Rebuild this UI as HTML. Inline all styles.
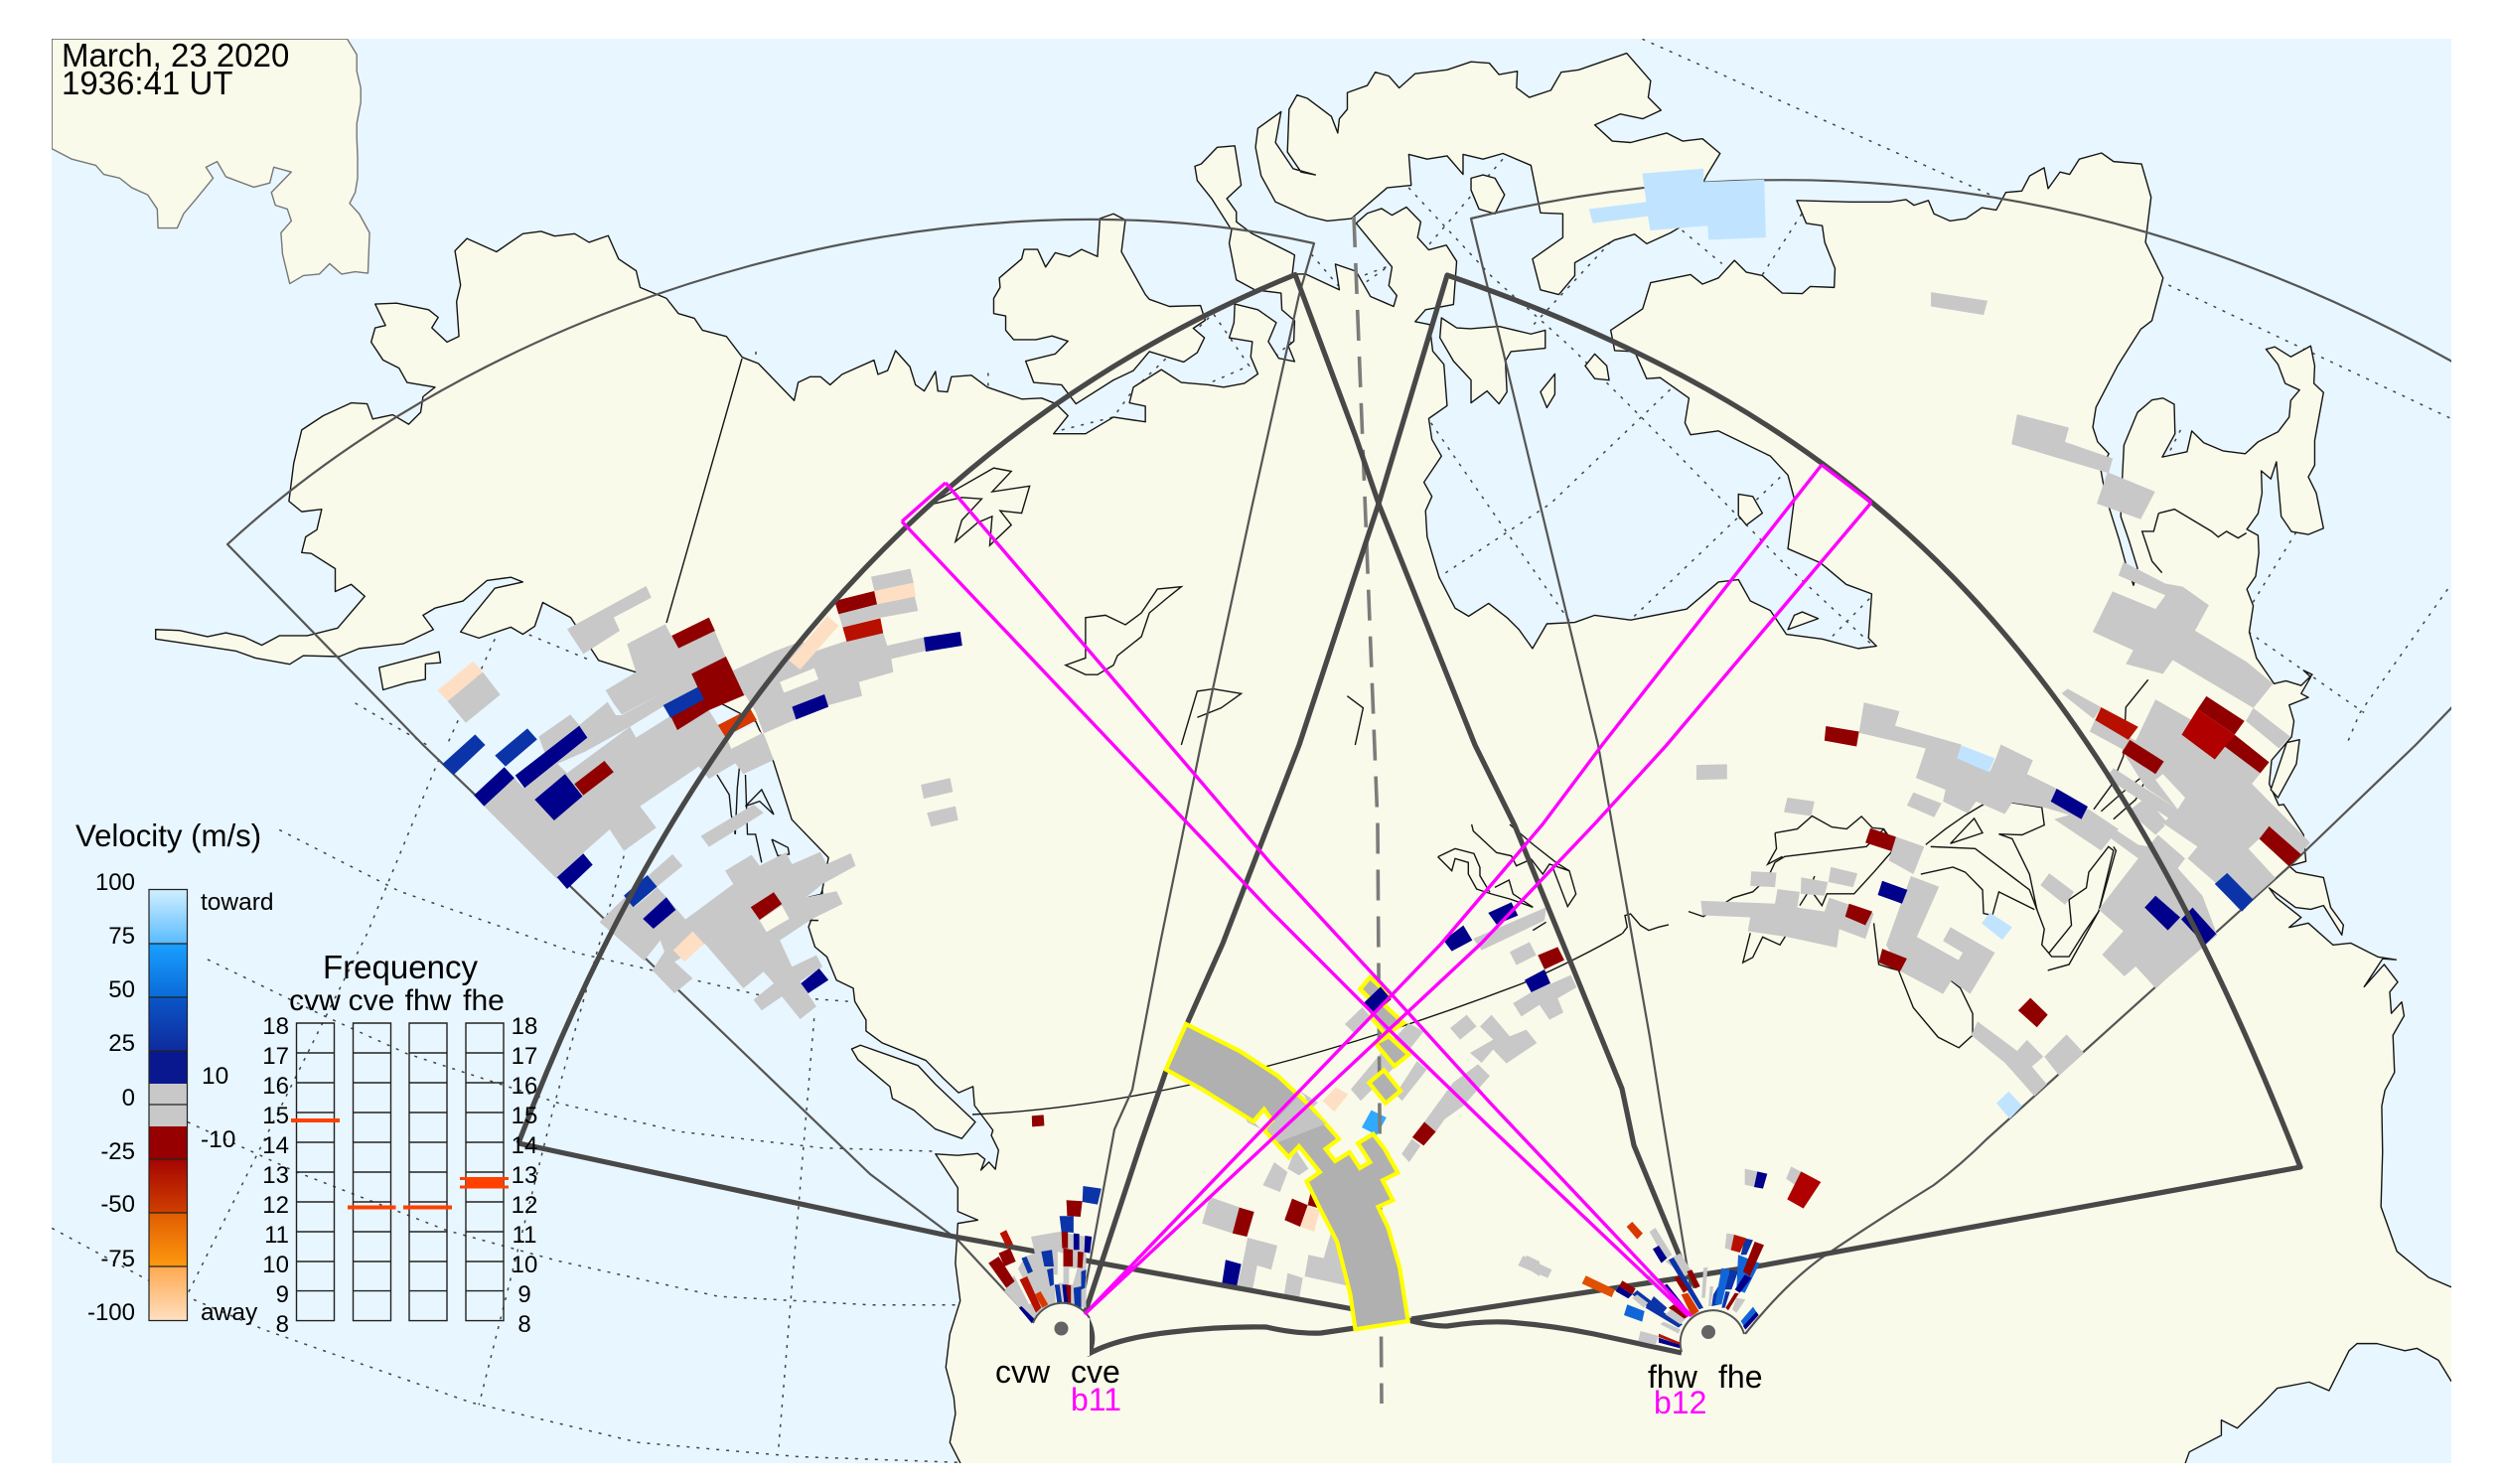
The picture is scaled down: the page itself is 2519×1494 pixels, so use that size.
<!DOCTYPE html>
<html><head><meta charset="utf-8"><style>
html,body{margin:0;padding:0;background:#fff}
svg{display:block}
svg *{vector-effect:non-scaling-stroke}
text{font-family:"Liberation Sans",sans-serif;fill:#000;stroke:none}
.L{fill:#f9faea;stroke:#151515;stroke-width:1.4;stroke-linejoin:round}
.O{fill:#e8f6ff;stroke:#151515;stroke-width:1.4}
.c{fill:none;stroke:#151515;stroke-width:1.4}
.k{fill:none;stroke:#444;stroke-width:1.5;stroke-dasharray:3 7}
.T{fill:none;stroke:#484848;stroke-width:5.2;stroke-linejoin:round}
.t{fill:none;stroke:#555;stroke-width:2.2;stroke-linejoin:round}
.m{fill:none;stroke:#ff00ff;stroke-width:3.4}
.g{fill:#c8c8c8}.d{fill:#900000}.n{fill:#00008b}.b{fill:#0a34a8}.r{fill:#b81000}.o{fill:#d83800}.p{fill:#ffdfc4}.l{fill:#c0e4ff}.s{fill:#1066d8}.f{fill:#f9faea}
.y{fill:#b0b0b0;stroke:#ffff00;stroke-width:4.2;stroke-linejoin:miter}
</style></head><body>
<svg xmlns="http://www.w3.org/2000/svg" width="2519" height="1494" viewBox="0 0 2519 1494">
<defs><clipPath id="mp"><rect x="52" y="39" width="2416" height="1434"/></clipPath></defs>
<rect width="2519" height="1494" fill="#fff"/>
<g clip-path="url(#mp)">
<rect x="52" y="39" width="2416" height="1434" fill="#e8f6ff"/>
<!-- grid -->
<g transform="translate(0,750) scale(.8036,.4745)">
<polyline class="k" points="350,180 500,310 720,440 950,530 1070,545"/>
<polyline class="k" points="260,455 400,570 510,655 700,760 850,820 1030,855 1170,862"/>
<polyline class="k" points="235,800 370,905 560,1030 700,1095 900,1170 1090,1188 1200,1188"/>
<polyline class="k" points="65,1025 185,1135 330,1240 590,1395 800,1480 1000,1510 1200,1522"/>
<polyline class="k" points="550,30 460,400 235,1165"/>
<polyline class="k" points="785,215 695,760 600,1400"/>
<polyline class="k" points="1020,580 975,1500"/>
</g>
<g transform="scale(.8036,.4783)">
<polyline class="k" points="445,1480 535,1568"/>
<polyline class="k" points="620,1345 560,1568"/>
<polyline class="k" points="640,1320 740,1390"/>
<polyline class="k" points="947,740 947,760"/>
<polyline class="k" points="1238,785 1238,815"/>
<polyline class="k" points="1330,905 1395,878 1420,820 1520,660 1565,770 1510,810"/>
</g>
<g transform="translate(1260,0) scale(.8029,.4783)">
<polyline class="k" points="490,82 940,420"/>
<polyline class="k" points="1150,600 1503,880"/>
<polyline class="k" points="690,450 640,580"/>
<polyline class="k" points="540,485 590,555"/>
<polyline class="k" points="197,395 300,580 400,730 490,880 670,1190 780,1360"/>
<polyline class="k" points="315,335 220,520"/>
<polyline class="k" points="450,510 350,690"/>
<polyline class="k" points="525,820 375,1060 235,1215"/>
<polyline class="k" points="225,890 320,1120 400,1310"/>
<polyline class="k" points="672,990 475,1305"/>
<polyline class="k" points="1165,905 1150,955"/>
<polyline class="k" points="1310,1120 1255,1270"/>
<polyline class="k" points="1500,1240 1390,1500 1375,1560"/>
<polyline class="k" points="1250,1330 1395,1500"/>
<polyline class="k" points="775,1260 725,1345"/>
<polyline class="k" points="75,535 108,600 172,560 130,610"/>
<polyline class="k" points="30,750 50,720"/>
</g>
<!-- land -->
<g transform="scale(.8036,.4783)">
<polygon class="L" style="stroke:#777" points="65,82 435,82 447,115 447,150 452,185 452,215 447,260 447,290 448,330 448,375 445,405 438,428 450,450 463,490 461,575 445,572 428,577 413,555 400,577 380,580 363,597 354,535 352,490 365,465 360,440 345,432 340,405 365,362 343,352 338,385 318,394 283,372 272,340 258,352 267,375 245,420 230,450 222,480 198,480 197,440 185,410 165,395 150,375 130,367 120,348 90,335 65,313"/>
<polygon class="L" points="1203,3110 1203,3079 1190,3036 1197,2976 1195,2941 1185,2878 1190,2808 1203,2738 1197,2659 1200,2575 1225,2568 1200,2550 1200,2500 1172,2429 1200,2432 1225,2428 1234,2440 1229,2463 1239,2446 1247,2461 1251,2421 1242,2390 1244,2379 1221,2327 1219,2287 1201,2300 1182,2270 1160,2232 1105,2195 1085,2170 1085,2147 1071,2108 1069,2080 1048,2063 1036,2014 1021,1993 1013,1951 1030,1875 1038,1805 992,1725 969,1603 947,1519 880,1460 797,1415 750,1390 715,1300 680,1268 670,1318 655,1335 640,1320 600,1343 577,1330 590,1300 620,1238 655,1225 640,1215 610,1222 580,1265 545,1280 530,1295 543,1325 505,1355 450,1365 425,1382 380,1380 363,1398 320,1385 295,1370 255,1360 195,1345 195,1325 225,1327 260,1340 283,1332 305,1340 328,1358 350,1338 385,1338 423,1322 457,1255 440,1230 420,1245 420,1197 390,1165 378,1163 383,1130 397,1115 403,1072 378,1077 362,1055 368,975 378,905 405,875 440,848 460,850 467,882 492,873 512,893 527,868 530,835 545,815 510,805 500,775 480,758 465,720 470,690 483,685 470,640 497,638 537,652 549,668 541,690 560,720 575,708 572,635 577,600 570,528 585,502 622,530 655,492 678,487 695,497 720,492 738,510 762,496 775,545 797,570 802,605 835,628 850,660 870,670 880,695 910,708 930,752 950,765 995,843 1000,805 1015,793 1028,793 1040,810 1055,788 1095,758 1100,788 1112,780 1122,738 1140,772 1147,810 1158,823 1172,782 1175,823 1187,825 1192,793 1217,790 1237,815 1280,840 1305,838 1323,850 1338,875 1320,913 1360,913 1395,878 1435,888 1435,855 1415,848 1420,815 1455,778 1480,805 1514,810 1533,815 1559,807 1576,787 1567,751 1569,719 1540,711 1546,679 1547,640 1576,652 1599,679 1589,719 1602,754 1622,761 1614,728 1621,718 1622,675 1606,652 1605,617 1572,610 1549,589 1540,512 1543,484 1518,418 1500,380 1497,350 1505,345 1525,310 1547,307 1555,390 1537,418 1549,446 1549,467 1568,491 1618,533 1622,537 1619,577 1636,577 1678,610 1673,556 1699,571 1717,624 1746,645 1750,622 1740,601 1744,562 1699,470 1713,449 1731,439 1744,453 1762,436 1780,467 1776,500 1790,526 1812,516 1825,550 1821,641 1786,652 1773,677 1791,683 1795,739 1809,767 1813,854 1790,881 1794,925 1806,960 1784,1015 1794,1045 1786,1075 1788,1130 1803,1215 1823,1280 1840,1297 1865,1270 1888,1300 1903,1325 1920,1365 1938,1313 1973,1310 1998,1295 2043,1305 2113,1282 2153,1225 2178,1220 2193,1265 2218,1285 2238,1335 2283,1345 2328,1365 2351,1360 2341,1343 2345,1250 2313,1230 2281,1185 2240,1155 2248,1050 2240,1000 2218,960 2153,907 2118,915 2111,890 2116,838 2080,795 2063,797 2048,740 2023,738 2018,695 2058,650 2068,595 2118,578 2133,598 2153,585 2173,548 2188,573 2208,580 2233,617 2258,618 2268,603 2298,605 2299,565 2286,510 2283,475 2263,470 2251,422 2318,425 2368,425 2388,420 2398,432 2416,422 2423,450 2443,465 2463,460 2483,437 2501,442 2513,405 2533,402 2543,370 2561,353 2566,397 2581,362 2593,367 2605,335 2633,322 2648,340 2683,345 2695,415 2688,510 2710,585 2696,675 2682,693 2653,770 2626,857 2622,899 2628,930 2642,955 2632,989 2638,1045 2655,1136 2663,1185 2673,1232 2678,1196 2667,1136 2657,1087 2659,1003 2661,937 2678,868 2696,842 2710,838 2724,851 2725,913 2709,962 2740,951 2746,907 2761,932 2785,949 2813,955 2829,930 2854,909 2868,878 2870,843 2881,821 2863,807 2854,767 2839,735 2850,730 2870,751 2895,728 2900,770 2899,807 2911,826 2900,927 2900,979 2892,1004 2902,1038 2911,1112 2892,1125 2871,1119 2858,1087 2852,972 2845,1008 2833,991 2834,1038 2829,1081 2815,1114 2829,1127 2830,1164 2826,1213 2815,1240 2823,1275 2818,1330 2827,1385 2849,1439 2864,1433 2883,1443 2897,1420 2886,1411 2895,1425 2883,1460 2892,1468 2868,1484 2874,1518 2871,1551 2846,1600 2843,1650 2855,1695 2861,1693 2886,1757 2889,1813 2868,1823 2877,1836 2911,1847 2920,1910 2936,1947 2934,1968 2911,1906 2895,1914 2876,1910 2843,1869 2852,1890 2883,1931 2868,1952 2892,1943 2923,1989 2945,1985 2979,2014 3002,2020 2985,2018 2962,2077 2987,2030 3004,2067 2994,2088 2996,2133 3009,2109 3012,2138 2998,2179 3000,2257 2988,2295 2984,2328 2985,2425 2983,2540 3003,2634 3043,2689 3071,2709 3200,2709 3200,2907 3071,2907 3055,2863 3028,2838 3013,2843 2978,2828 2953,2828 2943,2843 2918,2927 2893,2909 2853,2922 2833,2957 2803,3006 2783,2989 2783,3021 2743,3056 2738,3079 2738,3110"/>
<!-- islands -->
<polygon class="L" points="1378,460 1395,450 1410,463 1405,530 1435,620 1440,630 1465,645 1504,643 1510,674 1495,691 1509,711 1500,742 1483,762 1440,740 1420,780 1395,800 1348,850 1330,810 1295,805 1285,760 1322,745 1338,718 1318,707 1298,715 1270,715 1260,695 1260,665 1245,660 1245,628 1253,605 1252,585 1280,545 1283,525 1300,525 1310,562 1322,532 1340,540 1355,525 1375,540"/>
<polygon class="L" points="475,1405 550,1372 552,1395 533,1397 533,1430 510,1437 480,1452"/>
<polygon class="L" points="1576,270 1573,310 1580,370 1598,425 1638,455 1663,465 1693,460 1738,395 1768,390 1765,325 1788,335 1813,328 1833,367 1833,325 1858,335 1883,323 1918,348 1930,448 1958,450 1958,500 1920,545 1930,610 1953,620 1973,580 1973,553 2023,505 2048,493 2063,513 2093,490 2108,475 2138,370 2155,323 2133,292 2108,297 2088,280 2043,300 2020,297 1998,263 2030,240 2058,250 2081,232 2065,205 2068,170 2038,112 1978,147 1956,152 1943,190 1916,205 1900,185 1901,150 1878,157 1866,133 1843,130 1813,147 1773,155 1753,185 1740,160 1723,152 1713,180 1688,195 1688,230 1678,250 1676,280 1668,245 1638,207 1625,200 1615,230 1613,320 1630,362 1648,368 1620,355 1598,300 1605,235"/>
<polygon class="L" points="1843,375 1858,368 1873,375 1885,410 1873,450 1853,440 1843,400"/>
<polygon class="L" points="1806,669 1825,690 1842,692 1878,687 1918,703 1936,695 1936,733 1893,740 1886,760 1888,825 1878,850 1863,823 1843,848 1843,800 1842,798 1821,760 1804,711"/>
<polygon class="L" points="1986,770 1998,745 2013,770 2016,800 1998,797"/>
<polygon class="L" points="1930,825 1948,787 1948,830 1938,858"/>
<polygon class="L" points="2178,1040 2196,1045 2208,1080 2188,1105 2178,1085"/>
<polygon class="L" points="2240,1325 2248,1295 2258,1288 2278,1302"/>
<polygon class="L" points="2854,1679 2845,1662 2865,1563 2881,1557 2877,1608"/>
</g>
<g transform="translate(0,750) scale(.8036,.4745)">
<polygon class="L" points="1067,645 1078,637 1150,680 1172,720 1222,800 1205,835 1172,815 1145,775 1118,750 1115,725 1075,668"/>
</g>
<!-- lakes and borders -->
<g transform="scale(.8036,.4783)">
<polygon class="c" points="1165,1062 1245,985 1267,992 1243,1035 1290,1023 1280,1080 1253,1075 1267,1105 1240,1148 1243,1087 1225,1100 1197,1140 1205,1095 1230,1050 1205,1047"/>
<polygon class="c" points="1335,1400 1360,1385 1360,1300 1385,1295 1410,1315 1430,1290 1450,1240 1480,1235 1465,1255 1440,1290 1430,1340 1400,1380 1395,1400 1375,1420 1360,1420"/>
<polyline class="c" points="1480,1568 1500,1455 1520,1450 1555,1460 1530,1490 1500,1510"/>
</g>
<g transform="translate(1260,0) scale(.8029,.4783)"><polyline class="c" points="120,1465 140,1490 130,1568"/></g>
<g transform="translate(1700,540) scale(.4975,.3954)">
<polyline class="c" points="0,955 30,968 90,920 130,905 160,870 175,830 195,815 360,790 395,745"/>
<polyline class="c" points="175,755 220,745 250,712 290,740 320,745 350,713 372,742 395,745 415,795"/>
<polyline class="c" points="175,755 178,795 160,835 190,815"/>
<polyline class="c" points="125,1010 110,1085 130,1072 150,1020 185,1040 200,1010"/>
<polyline class="c" points="225,940 245,900 255,865"/>
<polyline class="c" points="480,785 520,745 560,710 600,680 655,678 715,690 720,735 675,760 628,758 655,770 690,860 705,950 720,1000 715,1040 735,1070 770,1070 800,1010 830,955 860,800 850,790 810,855 805,895 770,925 775,990 730,1060"/>
<polygon class="c" points="530,782 578,718 595,755"/>
<polyline class="c" points="490,790 580,795 690,900 705,950"/>
<polyline class="c" points="470,860 535,842 560,855 595,900 597,960 615,965 628,905 700,950"/>
<polyline class="c" points="375,985 385,1090 410,1100 425,1105 455,1200 505,1275 547,1302 575,1270 575,1215 550,1150 525,1125"/>
<polyline class="c" points="727,1105 770,1090 830,955 865,800 860,790"/>
<polyline class="c" points="820,695 855,635 880,560 885,435 930,365"/>
<polyline class="c" points="835,700 880,650 930,600"/>
<polyline class="c" points="860,720 905,670 925,620"/>
<polyline class="c" points="395,745 420,790 375,855 335,910 280,910 270,940 250,905"/>
</g>
<g transform="translate(2060,280) scale(.3333)">
<polyline class="c" points="340,710 388,698 500,765 520,782 545,765 580,785 605,770"/>
<polyline class="c" points="340,710 325,765 290,765 320,855 350,890"/>
</g>
<g transform="translate(420,560) scale(.408,.3333)">
<polyline class="c" points="740,660 770,720 775,780 785,840"/>
<polyline class="c" points="795,640 790,700 785,840"/>
<polyline class="c" points="810,660 815,840 835,840 850,925"/>
<polygon class="c" points="810,755 850,705 880,780 845,740"/>
<polyline class="c" points="875,855 915,880 918,900 890,905 875,855"/>
<polyline class="c" points="860,1080 910,1098 990,1100"/>
<polyline class="c" points="965,1030 1000,1020 1000,1010"/>
</g>
<g transform="translate(1280,830) scale(.3333)">
<polyline class="c" points="503,98 555,73 612,88 630,130 630,155 660,205"/>
<polyline class="c" points="503,98 545,140 555,103 595,115 595,150 620,195 665,210 720,225 790,250"/>
<polyline class="c" points="675,190 718,168 730,210 790,250"/>
<polyline class="c" points="605,0 610,20 680,85 725,95 740,125 785,105 820,150 840,120 900,140 920,210 895,248 850,130"/>
<polyline class="c" points="720,0 790,60 860,115 900,140"/>
<polyline class="c" points="790,320 830,295"/>
<polyline class="c" points="1060,330 1075,310 1068,275 1085,270 1115,305 1140,320 1170,310 1200,303"/>
</g>
<path class="c" d="M979,1122 C1150,1115 1350,1060 1533,990 Q1590,965 1633,940"/>
<polyline class="c" points="747,361 671,627"/>
<!-- thin FOV -->
<path class="t" d="M1085,1315 L1092,1300 L1122,1137 L1140,1097 L1168,950 L1209,750 L1260,512 L1308,296.5 L1323,245 C976,166 514,285 229,548 L426,750 L876,1182 L964,1248 L1041,1331"/>
<path class="t" d="M1702,1296 L1673,1120 L1661,1044 L1609,750 L1481,220 C1811,139 2145,184 2467,363 L2490,378"/>
<path class="t" d="M1757,1343 Q1795,1295 1833,1267 Q1880,1235 1947,1193 Q1975,1172 2000,1147 L2304,873 L2432,750 L2490,690"/>
<!-- patches: Alaska -->
<g transform="translate(420,560) scale(.408,.3333)">
<polygon class="g" points="370,220 565,90 578,125 485,185 500,225 410,295"/>
<polygon class="g" points="165,755 240,670 262,700 340,620 370,655 525,515 540,548 700,425 760,545 855,535 880,615 805,658 785,625 720,672 695,635 550,755 590,820 510,890 475,825 415,890 345,975"/>
<polygon class="g" points="300,545 378,478 400,510 470,440 490,480 505,480 595,420 612,450 525,515 415,590 340,630 320,610"/>
<polygon class="g" points="465,405 540,350 518,265 612,205 628,243 720,185 760,300 780,345 880,288 950,255 975,290 1060,255 1150,232 1160,270 1250,245 1257,285 1170,310 1175,350 1090,380 1098,422 1015,450 930,495 855,535 835,470 810,420 700,425 610,455 595,420 505,478 485,445"/>
<polygon class="f" points="895,380 980,338 990,372 905,412"/>
<polygon class="f" points="765,550 830,510 850,535 775,582"/>
<polygon class="d" points="628,240 720,185 735,225 645,278"/>
<polygon class="d" points="677,355 762,303 807,420 720,465 642,525 625,482 705,430"/>
<polygon class="b" points="607,450 693,395 708,432 625,488"/>
<polygon class="o" points="742,510 822,460 838,495 760,545"/>
<polygon class="n" points="925,455 1005,417 1015,455 935,493"/>
<polygon class="n" points="1250,245 1340,228 1345,270 1255,288"/>
<polygon class="d" points="1030,135 1128,105 1135,145 1040,175"/>
<polygon class="p" points="1128,105 1225,80 1230,122 1135,145"/>
<polygon class="g" points="1120,62 1217,38 1225,80 1128,105"/>
<polygon class="g" points="1040,175 1135,145 1228,122 1236,165 1145,185 1050,215"/>
<polygon class="r" points="1050,215 1143,187 1150,232 1060,258"/>
<polygon class="p" points="918,315 1012,180 1040,210 945,342"/>
<polygon class="b" points="62,628 143,538 168,570 90,660"/>
<polygon class="b" points="192,602 272,520 296,553 218,635"/>
<polygon class="n" points="140,722 215,637 240,670 165,755"/>
<polygon class="n" points="242,662 400,512 420,548 265,700"/>
<polygon class="n" points="290,735 365,658 408,725 338,798"/>
<polygon class="d" points="388,688 462,618 485,652 410,722"/>
<polygon class="n" points="345,970 410,898 433,932 370,1005"/>
<polygon class="p" points="50,405 138,317 162,350 75,438"/>
<polygon class="g" points="75,438 162,350 205,418 120,503"/>
<polygon class="g" points="570,965 630,900 655,935 592,998"/>
<polygon class="g" points="450,1105 513,1030 535,1060 575,1020 592,1000 615,1030 662,1097 780,990 760,950 825,902 845,935 910,895 925,930 995,893 1010,930 1070,897 1082,935 1000,990 960,1030 1035,1012 1050,1050 975,1095 895,1160 925,1240 985,1205 1000,1240 945,1285 985,1360 945,1398 900,1330 850,1372 830,1340 880,1290 855,1255 805,1305 710,1170 635,1225 680,1275 635,1320 580,1250 610,1195 600,1160 560,1222"/>
<polygon class="b" points="510,1025 568,963 592,998 533,1060"/>
<polygon class="n" points="557,1095 615,1030 638,1068 583,1125"/>
<polygon class="d" points="823,1060 880,1015 900,1050 845,1098"/>
<polygon class="f" points="845,1100 900,1055 918,1095 862,1135"/>
<polygon class="p" points="632,1190 680,1133 708,1170 660,1225"/>
<polygon class="n" points="947,1290 992,1245 1015,1280 965,1320"/>
<polygon class="g" points="700,845 830,750 855,775 720,878"/>
<polygon class="g" points="1243,690 1315,670 1322,712 1250,732"/>
<polygon class="g" points="1258,775 1328,755 1335,797 1268,817"/>
</g>
<!-- patches: east -->
<g transform="translate(1700,540) scale(.4975,.3954)">
<polygon class="g" points="880,65 965,120 1000,128 1053,175 1025,240 1130,320 1183,375 1143,437 980,315 960,350 885,325 900,290 818,243 858,140 945,185 965,150 870,100"/>
<polygon class="g" points="755,400 767,388 835,435 820,465"/>
<polygon class="g" points="812,497 823,465 905,520 890,550"/>
<polygon class="g" points="1143,437 1218,510 1195,540 1128,470"/>
<polygon class="g" points="945,415 1035,480 1000,505 1065,568 1090,510 1175,575 1140,630 1258,780 1237,810 1215,838 1155,770 1133,795 1188,870 1115,952 1065,880 1010,820 1030,790 960,730 990,695 925,640 885,560 905,520"/>
<polygon class="f" points="945,620 960,605 1005,665 990,695"/>
<polygon class="g" points="910,820 950,760 1005,820 990,845 1040,915 1070,1015 945,1150 905,1095 882,1120 837,1065 880,1005 830,950"/>
<polygon class="g" points="890,700 925,665 970,730 945,760"/>
<polygon class="g" points="845,615 860,590 990,695 975,720"/>
<polygon class="f" points="960,730 1000,770 1027,790 1005,820"/>
<polygon class="g" points="355,423 427,445 418,482 552,530 545,565 610,598 622,565 632,530 697,570 685,605 745,642 733,675 810,695 850,735 910,785 932,790 910,820 845,760 800,720 720,690 655,678 640,707 582,675 565,705 515,675 520,645 460,615 480,540 345,500"/>
<polygon class="g" points="810,695 870,745 835,800 740,720"/>
<polygon class="n" points="745,642 808,688 795,720 733,675"/>
<polygon class="l" points="552,532 620,565 607,600 543,565"/>
<polygon class="d" points="278,483 345,497 340,535 275,520"/>
<polygon class="g" points="16,582 78,580 78,618 16,620"/>
<polygon class="g" points="200,665 255,675 248,712 193,702"/>
<polygon class="g" points="455,652 512,680 497,715 442,685"/>
<polygon class="r" points="835,435 910,485 890,518 823,468"/>
<polygon class="d" points="893,518 962,573 945,605 877,550"/>
<polygon class="d" points="1048,407 1125,470 1105,505 1030,440"/>
<polygon style="fill:#b00000" points="1030,440 1105,505 1065,568 998,505"/>
<polygon class="d" points="1105,505 1175,575 1157,603 1085,535"/>
<polygon class="d" points="1175,738 1240,810 1215,840 1155,770"/>
<polygon class="b" points="1090,857 1143,925 1120,955 1065,885"/>
<polygon class="n" points="945,915 995,970 970,1003 923,945"/>
<polygon class="n" points="1020,945 1068,1012 1045,1040 997,975"/>
<polygon class="g" points="730,858 780,905 762,938 712,888"/>
<polygon class="d" points="368,743 420,765 412,802 358,780"/>
<polygon class="g" points="420,765 477,790 455,860 405,825"/>
<polygon class="g" points="450,865 507,892 462,1020 440,1078 400,1040"/>
<polygon class="g" points="400,1040 462,1020 555,1085 515,1165 430,1108"/>
<polygon class="g" points="530,995 620,1060 570,1165 525,1125 555,1060 515,1030"/>
<polygon class="n" points="392,877 443,900 432,935 383,913"/>
<polygon class="d" points="392,1050 442,1075 428,1108 385,1085"/>
<polygon class="l" points="610,958 655,995 635,1027 593,985"/>
<polygon class="g" points="127,853 178,856 175,893 125,890"/>
<polygon class="g" points="228,868 282,880 275,915 227,910"/>
<polygon class="g" points="288,842 342,858 333,893 283,880"/>
<polygon class="g" points="25,928 175,935 180,898 225,905 220,945 275,955 285,920 320,935 375,960 358,1025 305,1000 300,1047 200,1020 120,1005 125,970 28,965"/>
<polygon class="d" points="325,935 372,955 358,990 317,968"/>
<polygon class="d" points="692,1175 727,1218 705,1250 667,1207"/>
<polygon class="g" points="585,1235 665,1310 685,1282 718,1325 695,1350 725,1395 700,1425 640,1340 572,1270"/>
<polygon class="g" points="765,1268 800,1315 750,1373 720,1325"/>
<polygon class="l" points="648,1413 675,1450 650,1483 623,1443"/>
</g>
<g transform="translate(1260,0) scale(.8029,.4783)">
<polygon class="g" points="852,615 923,633 918,663 852,645"/>
<polygon class="g" points="960,872 1025,900 1020,930 1080,965 1075,995 1133,1035 1115,1093 1060,1060 1073,995 953,935"/>
<polygon class="l" points="490,365 567,355 567,383 643,378 645,500 573,505 572,475 500,485 497,455 428,470 423,440 495,425"/>
</g>
<!-- centre -->
<g transform="translate(1280,830) scale(.3333)">
<polygon class="g" points="610,345 830,250 825,290 635,380"/>
<polygon class="n" points="520,350 580,305 607,350 545,383"/>
<polygon class="n" points="655,267 725,235 745,275 680,302"/>
<polygon class="g" points="720,385 780,355 800,395 740,425"/>
<polygon class="d" points="805,395 865,370 885,410 825,438"/>
<polygon class="g" points="730,540 785,507 905,455 922,492 865,525 882,568 840,590 810,545 755,580"/>
<polygon class="n" points="765,470 825,438 843,480 785,507"/>
<polygon class="g" points="540,615 590,575 620,610 570,650"/>
<polygon class="g" points="600,690 670,650 630,610 665,575 720,640 770,620 802,660 710,722 670,680 635,720"/>
<polygon class="g" points="222,603 275,552 303,585 250,630"/>
<polygon class="g" points="460,900 530,825 580,770 625,725 660,760 580,850 510,900"/>
<polygon class="g" points="240,800 340,680 415,600 460,625 385,720 270,835"/>
<polygon class="g" points="375,815 440,715 470,740 395,835"/>
<polygon class="p" points="155,835 195,793 232,815 190,868"/>
</g>
<g transform="translate(950,950) scale(.3827,.3333)">
<polygon class="d" points="232,520 263,517 265,550 233,553"/>
<polygon class="g" points="790,520 815,537 835,560 800,540"/>
<polygon class="g" points="870,660 905,690 885,750 840,730"/>
<polygon class="g" points="925,620 960,680 935,700 905,680"/>
<polygon class="g" points="700,765 780,797 760,875 680,845"/>
<polygon class="d" points="778,797 817,810 798,885 760,875"/>
<polygon class="d" points="917,770 958,790 938,855 897,835"/>
<polygon class="d" points="965,755 990,800 958,790"/>
<polygon class="p" points="958,793 990,805 975,870 938,855"/>
<polygon class="g" points="800,888 878,912 862,985 825,972 812,1050 770,1040 785,975"/>
<polygon class="n" points="742,955 783,968 770,1042 732,1030"/>
<polygon class="g" points="905,995 945,1010 935,1075 895,1065"/>
<polygon class="g" points="960,940 1000,950 1020,870 1040,880 1070,1035 950,1005"/>
<polygon class="g" points="1515,965 1535,942 1568,960 1568,1005"/>
<polygon class="g" points="1205,635 1232,590 1255,610 1225,660"/>
<polygon class="d" points="1233,585 1265,538 1295,568 1263,610"/>
<polygon class="g" points="1265,538 1340,420 1370,445 1295,568"/>
<polygon class="g" points="1340,420 1405,365 1437,400 1370,445"/>
<polygon style="fill:#30aaff" points="1125,503 1165,525 1140,578 1100,555"/>
<polygon class="g" points="930,440 985,480 965,500 950,460"/>
</g>
<!-- dashed meridian -->
<polyline points="1363,218 1387,830 1391,1413" fill="none" stroke="#7c7c7c" stroke-width="3.6" stroke-dasharray="31 16"/>
<!-- thick outlines -->
<path class="T" d="M1092,1323 L1149,1150 L1174,1078 L1231,950 L1308,750 L1388,507 L1457,277 C1877,422 2109,644 2316,1175 L1774,1274 L1421,1328"/>
<polyline class="T" points="522,1151 950,1243 1363,1318 1395,1326"/>
<path class="T" d="M1092,1323 Q1105,1345 1096,1363 Q1125,1347 1180,1341 Q1230,1335 1275,1336 Q1305,1343 1330,1342 L1364,1337 L1418,1329 Q1440,1335 1457,1335 Q1490,1330 1517,1331 Q1560,1334 1605,1343 L1693,1362"/>
<path class="T" d="M522,1151 Q770,494 1304,276.5 L1365,440 L1388,507 L1485,750 L1525,831 L1585,978 L1633,1096 L1645,1153 L1694,1272 L1707,1296"/>
<!-- yellow beams -->
<g transform="translate(950,950) scale(.3827,.3333)">
<polygon class="y" points="638,243 780,325 880,400 968,495 1040,590 1005,620 1030,657 1068,630 1095,678 1122,660 1090,603 1130,575 1160,620 1195,692 1155,715 1182,775 1143,795 1170,860 1200,980 1222,1140 1083,1165 1070,1060 1035,900 990,800 955,718 990,690 935,612 908,645 845,565 865,535 843,500 815,537 680,440 585,380"/>
</g>
<g transform="translate(1280,830) scale(.3333)">
<polygon class="y" points="298,462 360,520 340,545 400,600 345,635 300,580 320,550 268,497"/>
<polygon class="y" points="355,640 415,695 372,730 330,680 315,660"/>
<polygon class="y" points="340,742 390,805 345,842 295,780"/>
<polygon class="n" points="275,543 330,490 362,528 305,577"/>
</g>
<g transform="translate(950,950) scale(.3827,.3333)">
<polygon style="fill:#c4c4c4" points="930,465 1005,545 880,600 850,560"/>
</g>
<!-- radar fans -->
<g transform="translate(950,950) scale(.3827,.3333)">
<polygon class="g" points="160,1050 215,945 240,935 230,885 305,870 375,885 375,1100 330,1095 290,1095 255,1115 235,1145"/>
<polygon class="f" points="180,990 195,980 240,1080 225,1090"/>
<polygon class="f" points="300,930 315,935 315,1025 300,1025"/>
<polygon class="f" points="330,980 352,980 340,1030 330,1030"/>
<polygon class="f" points="290,1000 300,1000 305,1090 295,1090"/>
<polygon class="d" points="118,965 145,945 187,1020 165,1040"/>
<polygon class="d" points="145,935 175,920 190,960 160,975"/>
<polygon class="r" points="148,875 165,865 183,908 165,915"/>
<polygon class="r" points="200,1015 220,1005 257,1100 243,1115"/>
<polygon class="o" points="240,1060 255,1050 275,1090 260,1100"/>
<polygon class="b" points="205,950 218,945 235,990 222,997"/>
<polygon class="n" points="198,1100 205,1095 240,1135 232,1147"/>
<polygon class="b" points="257,930 285,925 290,975 265,975"/>
<polygon class="b" points="272,985 288,980 290,1030 280,1035"/>
<polygon class="b" points="292,1030 305,1030 312,1090 300,1095"/>
<polygon class="n" points="312,1030 325,1030 330,1095 318,1095"/>
<polygon class="d" points="322,1030 335,1032 335,1095 328,1095"/>
<polygon class="b" points="342,1040 362,1035 362,1105 345,1100"/>
<polygon class="b" points="362,990 375,985 372,1040 362,1045"/>
<polygon class="d" points="315,920 340,925 340,975 315,975"/>
<polygon class="d" points="310,870 327,870 327,920 312,920"/>
<polygon class="n" points="342,875 357,877 357,925 342,925"/>
<polygon class="n" points="372,882 390,885 385,935 370,932"/>
<polygon class="d" points="353,930 368,932 365,980 352,978"/>
<polygon class="b" points="305,823 342,823 342,873 310,870"/>
<polygon class="d" points="323,775 365,778 360,825 325,822"/>
<polygon class="b" points="367,732 415,740 405,788 365,780"/>
</g>
<g transform="translate(1500,1050) scale(.3333)">
<polygon class="g" points="85,672 100,643 187,685 175,710"/>
<polygon style="fill:#e05000" points="278,727 290,703 378,745 368,768"/>
<polygon class="o" points="413,555 430,540 462,575 445,593"/>
<polygon class="g" points="482,570 500,558 550,640 530,655"/>
<polygon class="n" points="492,622 510,612 535,650 518,665"/>
<polygon class="g" points="530,660 575,635 610,690 590,705"/>
<polygon class="g" points="470,710 490,695 600,810 590,822"/>
<polygon class="b" points="540,655 555,648 645,800 632,805"/>
<polygon class="d" points="595,690 610,685 635,735 620,742"/>
<polygon class="d" points="557,710 570,703 600,745 585,755"/>
<polygon class="n" points="520,735 535,728 600,810 590,820"/>
<polygon class="o" points="578,760 598,755 632,810 610,825"/>
<polygon class="d" points="540,800 555,790 600,825 585,835"/>
<polygon class="g" points="515,850 525,842 575,865 570,878"/>
<polygon class="d" points="390,735 400,718 440,742 430,760"/>
<polygon class="n" points="380,750 390,735 430,760 418,772"/>
<polygon class="b" points="430,760 445,747 495,785 480,800"/>
<polygon class="b" points="480,790 495,765 535,800 515,825"/>
<polygon class="b" points="470,800 480,785 582,850 570,860"/>
<polygon class="g" points="430,770 445,760 478,785 465,800"/>
<polygon class="g" points="530,820 548,805 590,835 575,850"/>
<polygon class="s" points="415,790 467,810 460,842 405,822"/>
<polygon class="g" points="455,870 510,885 500,912 448,900"/>
<polygon class="r" points="510,878 575,905 573,912 510,888"/>
<polygon class="n" points="510,890 575,912 573,922 510,905"/>
<polygon class="g" points="770,380 808,388 800,435 770,428"/>
<polygon class="n" points="808,388 838,395 825,440 798,435"/>
<polygon class="g" points="910,373 942,390 920,428 895,410"/>
<polygon style="fill:#b00000" points="940,388 1000,420 947,500 898,472"/>
<polygon class="g" points="645,680 658,677 650,770 640,770"/>
<polygon class="b" points="675,760 690,735 695,790 670,795"/>
<polygon class="s" points="700,680 725,685 700,790 680,790"/>
<polygon class="b" points="725,685 750,690 730,745 710,745"/>
<polygon class="g" points="665,735 675,735 668,795 660,795"/>
<polygon class="s" points="750,640 815,665 770,755 745,745"/>
<polygon class="n" points="740,745 770,700 790,710 755,755"/>
<polygon class="d" points="800,600 828,610 785,705 765,690"/>
<polygon class="b" points="770,590 795,595 775,640 758,640"/>
<polygon class="r" points="735,578 775,590 755,633 727,625"/>
<polygon class="g" points="715,575 738,578 728,625 710,620"/>
<polygon class="d" points="740,755 752,757 720,808 712,800"/>
<polygon class="g" points="745,770 772,775 745,815 732,805"/>
<polygon class="s" points="795,797 810,820 770,860 758,840"/>
<polygon class="n" points="805,812 812,822 772,866 765,855"/>
<polygon class="b" points="712,750 725,752 710,800 700,800"/>
</g>
<!-- radar masks -->
<path d="M1040,1332 A32,32 0 0 1 1097,1327 L1097,1365 L1040,1365Z" fill="#f9faea"/>
<path d="M1040,1332 A32,32 0 0 1 1097,1327" fill="none" stroke="#555" stroke-width="2"/>
<circle cx="1068.5" cy="1337.5" r="7" fill="#646464"/>
<path d="M1693,1361 A32,32 0 0 1 1756,1343 L1756,1365 L1693,1365Z" fill="#f9faea"/>
<path d="M1693,1361 A32,32 0 0 1 1756,1343" fill="none" stroke="#555" stroke-width="2"/>
<circle cx="1720" cy="1341" r="7" fill="#646464"/>
<!-- magenta beams -->
<polyline class="m" points="952,486 1280,870 1400,1000 1500,1110 1703,1325"/>
<polyline class="m" points="908,525 1280,918 1402,1040 1500,1135 1700,1325"/>
<line class="m" x1="952" y1="486" x2="908" y2="525"/>
<polyline class="m" points="1834,468 1613,750 1553,830 1451,950 1092,1323"/>
<polyline class="m" points="1884,506 1678,750 1605,830 1491,950 1092,1323"/>
<line class="m" x1="1834" y1="468" x2="1884" y2="506"/>
</g>
<!-- colour bar -->
<defs>
<linearGradient id="a1" x1="0" y1="0" x2="0" y2="1"><stop offset="0" stop-color="#d0efff"/><stop offset="1" stop-color="#58baff"/></linearGradient>
<linearGradient id="a2" x1="0" y1="0" x2="0" y2="1"><stop offset="0" stop-color="#1aa0ff"/><stop offset="1" stop-color="#0a6ad8"/></linearGradient>
<linearGradient id="a3" x1="0" y1="0" x2="0" y2="1"><stop offset="0" stop-color="#0a56c8"/><stop offset="1" stop-color="#0f2a9c"/></linearGradient>
<linearGradient id="a4" x1="0" y1="0" x2="0" y2="1"><stop offset="0" stop-color="#a40400"/><stop offset="1" stop-color="#d04000"/></linearGradient>
<linearGradient id="a5" x1="0" y1="0" x2="0" y2="1"><stop offset="0" stop-color="#e05c00"/><stop offset="1" stop-color="#ff9a10"/></linearGradient>
<linearGradient id="a6" x1="0" y1="0" x2="0" y2="1"><stop offset="0" stop-color="#ffa850"/><stop offset="1" stop-color="#ffe0c2"/></linearGradient>
</defs>
<rect x="150" y="895.5" width="38.5" height="55.5" fill="url(#a1)"/>
<rect x="150" y="950" width="38.5" height="54.5" fill="url(#a2)"/>
<rect x="150" y="1004" width="38.5" height="55" fill="url(#a3)"/>
<rect x="150" y="1058" width="38.5" height="33" fill="#0a1890"/>
<rect x="150" y="1091" width="38.5" height="44" fill="#c8c8c8"/>
<rect x="150" y="1134" width="38.5" height="33" fill="#960000"/>
<rect x="150" y="1166.5" width="38.5" height="55" fill="url(#a4)"/>
<rect x="150" y="1221" width="38.5" height="55" fill="url(#a5)"/>
<rect x="150" y="1275" width="38.5" height="55" fill="url(#a6)"/>
<g stroke="#222" stroke-width="1.2" fill="none">
<rect x="150" y="895.5" width="38.5" height="434"/>
<path d="M150 950H188.5M150 1004H188.5M150 1058H188.5M150 1112H188.5M150 1167H188.5M150 1221H188.5M150 1275H188.5"/>
</g>
<g font-size="24" text-anchor="end">
<text x="136" y="896">100</text><text x="136" y="950">75</text><text x="136" y="1004">50</text><text x="136" y="1058">25</text><text x="136" y="1113">0</text><text x="136" y="1167">-25</text><text x="136" y="1220">-50</text><text x="136" y="1275">-75</text><text x="136" y="1329">-100</text>
</g>
<text x="76" y="852" font-size="31.2">Velocity (m/s)</text>
<g font-size="24.5"><text x="202" y="916">toward</text><text x="202" y="1329">away</text><text x="203" y="1091">10</text><text x="202" y="1155">-10</text></g>
<!-- frequency -->
<text x="403" y="985" font-size="33" text-anchor="middle">Frequency</text>
<g font-size="30" text-anchor="middle"><text x="317" y="1017">cvw</text><text x="374" y="1017">cve</text><text x="431" y="1017">fhw</text><text x="487" y="1017">fhe</text></g>
<g fill="none" stroke="#222" stroke-width="1.4">
<g id="q"><rect x="298.5" y="1030" width="38" height="299.6"/><path d="M298.5 1060H336.5M298.5 1090H336.5M298.5 1120H336.5M298.5 1150H336.5M298.5 1180H336.5M298.5 1210H336.5M298.5 1240H336.5M298.5 1270H336.5M298.5 1299.6H336.5"/></g>
<use href="#q" x="57"/><use href="#q" x="113.5"/><use href="#q" x="170.5"/>
</g>
<g font-size="24" text-anchor="end">
<text x="291" y="1041">18</text><text x="291" y="1071">17</text><text x="291" y="1101">16</text><text x="291" y="1131">15</text><text x="291" y="1161">14</text><text x="291" y="1191">13</text><text x="291" y="1221">12</text><text x="291" y="1251">11</text><text x="291" y="1281">10</text><text x="291" y="1311">9</text><text x="291" y="1341">8</text>
</g>
<g font-size="24" text-anchor="middle">
<text x="528" y="1041">18</text><text x="528" y="1071">17</text><text x="528" y="1101">16</text><text x="528" y="1131">15</text><text x="528" y="1161">14</text><text x="528" y="1191">13</text><text x="528" y="1221">12</text><text x="528" y="1251">11</text><text x="528" y="1281">10</text><text x="528" y="1311">9</text><text x="528" y="1341">8</text>
</g>
<g fill="#ff4000">
<rect x="293" y="1126" width="49" height="4"/>
<rect x="350" y="1213.5" width="48.5" height="4"/>
<rect x="406" y="1213.5" width="49" height="4"/>
<rect x="463" y="1185" width="49" height="3"/>
<rect x="463" y="1193.5" width="49" height="3"/>
<rect x="469" y="1186" width="38" height="9.5"/>
</g>
<!-- labels -->
<text x="62" y="67" font-size="33">March, 23 2020</text>
<text x="62" y="95" font-size="33">1936:41 UT</text>
<g font-size="32"><text x="1002" y="1392">cvw</text><text x="1078" y="1392">cve</text><text x="1659" y="1397">fhw</text><text x="1730" y="1397">fhe</text>
<text x="1078" y="1420" style="fill:#ff00ff">b11</text><text x="1665" y="1423" style="fill:#ff00ff">b12</text></g>
</svg>
</body></html>
